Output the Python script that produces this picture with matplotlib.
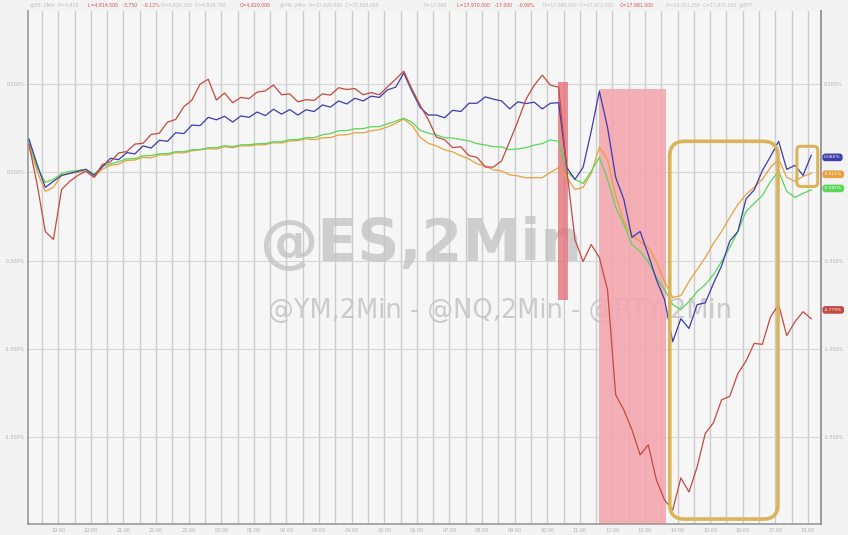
import numpy as np
import matplotlib
matplotlib.use("Agg")
from matplotlib import pyplot as plt
from matplotlib.patches import FancyBboxPatch, Rectangle

# time in hours since 18:00 (2 min bars, sampled every 15 min)
t = np.arange(97) * 0.25 + 0.1

# % change series
rty = [0.159, -0.068, -0.335, -0.381, -0.097, -0.051, -0.017, 0.006, -0.028, 0.045,
       0.060, 0.110, 0.118, 0.160, 0.165, 0.215, 0.222, 0.285, 0.300, 0.372,
       0.410, 0.500, 0.528, 0.410, 0.450, 0.395, 0.425, 0.418, 0.455, 0.462,
       0.495, 0.440, 0.445, 0.400, 0.412, 0.408, 0.445, 0.438, 0.480, 0.470,
       0.475, 0.440, 0.452, 0.440, 0.485, 0.528, 0.574, 0.472, 0.381, 0.300,
       0.200, 0.185, 0.140, 0.145, 0.095, 0.085, 0.030, 0.030, 0.065, 0.176,
       0.290, 0.415, 0.494, 0.551, 0.494, 0.483, 0.017, -0.381, -0.506, -0.409,
       -0.483, -0.665, -1.261, -1.347, -1.460, -1.602, -1.545, -1.744, -1.858, -1.915,
       -1.733, -1.813, -1.670, -1.480, -1.420, -1.290, -1.270, -1.140, -1.070, -0.970,
       -0.975, -0.820, -0.750, -0.926, -0.847, -0.790, -0.830]
ym = [0.188, 0.045, -0.085, -0.051, -0.017, -0.006, 0.006, 0.017, -0.017, 0.030,
      0.080, 0.072, 0.112, 0.105, 0.150, 0.138, 0.182, 0.176, 0.225, 0.220,
      0.268, 0.265, 0.312, 0.298, 0.318, 0.285, 0.320, 0.312, 0.342, 0.322,
      0.358, 0.330, 0.356, 0.325, 0.355, 0.345, 0.382, 0.370, 0.405, 0.388,
      0.420, 0.405, 0.432, 0.425, 0.468, 0.483, 0.563, 0.460, 0.369, 0.325,
      0.325, 0.310, 0.352, 0.345, 0.392, 0.392, 0.428, 0.415, 0.405, 0.360,
      0.400, 0.390, 0.398, 0.360, 0.392, 0.395, 0.028, -0.040, 0.028, 0.233,
      0.460, 0.256, -0.028, -0.153, -0.369, -0.335, -0.466, -0.608, -0.722, -0.960,
      -0.830, -0.885, -0.750, -0.740, -0.630, -0.530, -0.390, -0.335, -0.150, -0.100,
      0.010, 0.090, 0.176, 0.017, 0.040, -0.017, 0.097]
es = [0.153, 0.006, -0.108, -0.085, -0.017, -0.006, 0.000, 0.006, -0.028, 0.017,
      0.040, 0.046, 0.068, 0.070, 0.085, 0.082, 0.100, 0.098, 0.112, 0.110,
      0.122, 0.128, 0.134, 0.132, 0.145, 0.140, 0.150, 0.150, 0.156, 0.157,
      0.168, 0.166, 0.178, 0.180, 0.191, 0.185, 0.196, 0.197, 0.212, 0.213,
      0.225, 0.224, 0.236, 0.242, 0.258, 0.278, 0.301, 0.267, 0.199, 0.165,
      0.150, 0.128, 0.116, 0.094, 0.076, 0.048, 0.036, 0.014, 0.008, -0.014,
      -0.020, -0.031, -0.030, -0.030, 0.000, 0.028, -0.028, -0.097, -0.085, -0.006,
      0.142, 0.074, -0.131, -0.278, -0.358, -0.392, -0.426, -0.506, -0.619, -0.710,
      -0.699, -0.619, -0.551, -0.483, -0.403, -0.335, -0.256, -0.182, -0.125, -0.085,
      -0.040, 0.028, 0.074, -0.028, -0.051, -0.023, -0.005]
nq = [0.176, 0.028, -0.057, -0.040, -0.006, 0.006, 0.011, 0.017, -0.011, 0.034,
      0.048, 0.060, 0.077, 0.078, 0.094, 0.095, 0.105, 0.106, 0.117, 0.117,
      0.128, 0.129, 0.139, 0.140, 0.151, 0.146, 0.156, 0.157, 0.162, 0.163,
      0.173, 0.174, 0.185, 0.186, 0.196, 0.197, 0.213, 0.220, 0.236, 0.237,
      0.247, 0.248, 0.259, 0.259, 0.276, 0.290, 0.307, 0.284, 0.239, 0.222,
      0.212, 0.197, 0.195, 0.186, 0.178, 0.163, 0.155, 0.146, 0.144, 0.129,
      0.133, 0.140, 0.155, 0.163, 0.184, 0.176, 0.006, -0.040, -0.063, 0.006,
      0.085, -0.040, -0.199, -0.295, -0.409, -0.449, -0.506, -0.597, -0.665, -0.750,
      -0.778, -0.733, -0.676, -0.636, -0.580, -0.506, -0.426, -0.335, -0.222, -0.176,
      -0.131, -0.051, 0.006, -0.108, -0.142, -0.119, -0.100]

last_labels = ["0.085%", "-0.011%", "-0.091%", "-0.779%"]
ytick_vals = [0.5, 0.0, -0.5, -1.0, -1.5]
ytick_lbls = ["0.500%", "0.000%", "-0.500%", "-1.000%", "-1.500%"]
# right axis: the 0.000% label sits under the ES tag, so it is not shown
rtick_vals = [0.5, -0.5, -1.0, -1.5]
rtick_lbls = ["0.500%", "-0.500%", "-1.000%", "-1.500%"]
xtick_vals = list(range(1, 25))
xtick_lbls = ["19:00", "20:00", "21:00", "22:00", "23:00", "00:00", "01:00", "02:00",
              "03:00", "04:00", "05:00", "06:00", "07:00", "08:00", "09:00", "10:00",
              "11:00", "12:00", "13:00", "14:00", "15:00", "16:00", "17:00", "18:00"]

c_es, c_ym, c_nq, c_rty = "#e8a040", "#3c3caa", "#5ad65a", "#c24a42"

fig = plt.figure(figsize=(8.48, 5.35), dpi=100, facecolor="#f3f3f3")
ax = fig.add_axes([28/848, 11/535, 793/848, 513/535])
ax.set_facecolor("#f6f6f6")
ax.set_xlim(0.07, 24.4)
ax.set_ylim(-1.994, 0.915)

ax.set_xticks(xtick_vals)
ax.set_xticklabels(xtick_lbls)
ax.set_xticks(np.arange(0.5, 24.4, 1.0), minor=True)
ax.set_yticks(ytick_vals)
ax.set_yticklabels(ytick_lbls)
ax.grid(True, which="both", axis="x", color="#cdcdcd", lw=1.0)
ax.grid(True, axis="y", color="#d6d6d6", lw=0.8)
ax.set_axisbelow(True)
ax.tick_params(axis="both", which="both", length=0, labelsize=3.5, colors="#b0b0b0")
ax.tick_params(axis="y", pad=2)
ax.tick_params(axis="x", pad=3)
for s in ["left", "right", "bottom"]:
    ax.spines[s].set_color("#999999")
    ax.spines[s].set_linewidth(1.2)
ax.spines["top"].set_visible(False)

rax = ax.secondary_yaxis("right")
rax.set_yticks(rtick_vals)
rax.set_yticklabels(rtick_lbls)
rax.tick_params(length=0, labelsize=3.5, colors="#b0b0b0", pad=2)
rax.spines["right"].set_color("#999999")
rax.spines["right"].set_linewidth(1.2)

# watermark
ax.text(0.495, 0.545, "@ES,2Min", transform=ax.transAxes, ha="center", va="center",
        fontsize=42, fontweight="bold", color="#c4c4c4", alpha=0.8, zorder=1)
ax.text(0.595, 0.415, "@YM,2Min - @NQ,2Min - @RTY,2Min", transform=ax.transAxes,
        ha="center", va="center", fontsize=18.5, color="#c4c4c4", alpha=0.85, zorder=1)

# shaded zones
ax.add_patch(Rectangle((17.58, -1.994), 2.06, 0.472 + 1.994, facecolor="#f3a3aa",
                       edgecolor="none", alpha=0.85, zorder=1.5))
ax.add_patch(Rectangle((16.33, -0.722), 0.30, 0.511 + 0.722, facecolor="#e26a72",
                       edgecolor="none", alpha=0.75, zorder=1.5))

ax.plot(t, es, color=c_es, lw=0.9, zorder=3)
ax.plot(t, nq, color=c_nq, lw=0.9, zorder=3)
ax.plot(t, ym, color=c_ym, lw=0.9, zorder=4)
ax.plot(t, rty, color=c_rty, lw=0.9, zorder=4)

# rounded highlight boxes
asp = (1/176) / (1/32.6)
ax.add_patch(FancyBboxPatch((19.76, -1.966), 3.32, 0.176 + 1.966,
                            boxstyle="round,pad=0,rounding_size=0.45",
                            mutation_aspect=asp, fill=False, edgecolor="#d9b45a",
                            lw=2.6, zorder=5))
ax.add_patch(FancyBboxPatch((23.66, -0.080), 0.64, 0.228,
                            boxstyle="round,pad=0,rounding_size=0.12",
                            mutation_aspect=asp, fill=False, edgecolor="#d9b45a",
                            lw=2.2, zorder=5))

# last value tags on the right
tag_y = [ym[-1] - 0.012, es[-1] - 0.006, nq[-1] + 0.009, rty[-1] + 0.05]
for lbl, y, c in zip(last_labels, tag_y, [c_ym, c_es, c_nq, c_rty]):
    ax.annotate(lbl, xy=(1.004, y), xycoords=("axes fraction", "data"), ha="left", va="center",
                fontsize=3.2, color="white", annotation_clip=False, zorder=6,
                bbox=dict(boxstyle="round,pad=0.25,rounding_size=0.5", fc=c, ec=c))

# header line
hy = 0.991
fig.text(0.035, hy, "@ES, 2Min  H=4,828", fontsize=3.3, color="#c0c0c0", va="center")
fig.text(0.104, hy, "L=4,814.500   -3.750    -0.12%", fontsize=3.3, color="#d05050", va="center")
fig.text(0.190, hy, "H=4,826.250  C=4,816.750", fontsize=3.3, color="#c0c0c0", va="center")
fig.text(0.283, hy, "O=4,820.000", fontsize=3.3, color="#d05050", va="center")
fig.text(0.330, hy, "@YM, 2Min  H=37,620.000  C=37,598.000", fontsize=3.3, color="#c0c0c0", va="center")
fig.text(0.500, hy, "H=17,990", fontsize=3.3, color="#c0c0c0", va="center")
fig.text(0.539, hy, "L=17,970.000   -17.000    -0.09%", fontsize=3.3, color="#d05050", va="center")
fig.text(0.640, hy, "H=17,990.000  C=17,972.500", fontsize=3.3, color="#c0c0c0", va="center")
fig.text(0.731, hy, "O=17,981.000", fontsize=3.3, color="#d05050", va="center")
fig.text(0.785, hy, "H=18,001.250  C=17,975.250  @RTY", fontsize=3.3, color="#c0c0c0", va="center")

fig.savefig("out.png", dpi=100, facecolor=fig.get_facecolor())
